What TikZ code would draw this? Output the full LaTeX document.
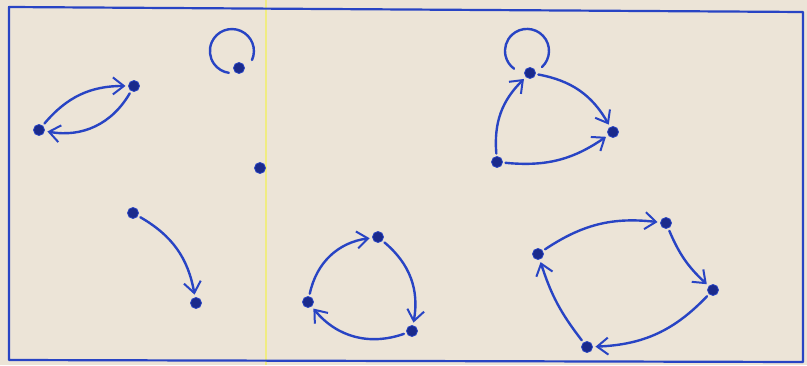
\documentclass[tikz,border=0pt]{standalone}
\usetikzlibrary{arrows.meta}
\definecolor{paper}{RGB}{236,228,215}
\definecolor{ink}{RGB}{40,68,196}
\definecolor{dotink}{RGB}{26,42,140}
\definecolor{yel}{RGB}{240,236,130}
\tikzset{
  dot/.style={circle,fill=dotink,draw=ink,line width=0.8pt,inner sep=0pt,minimum size=11pt,outer sep=3pt},
  arr/.style={draw=ink,line width=2.4pt,line cap=round,-{Straight Barb[length=11pt,width=17pt,line width=2pt]}},
  plain/.style={draw=ink,line width=2.4pt,line cap=round},
}
\begin{document}
\begin{tikzpicture}[x=1pt,y=1pt]
\fill[paper] (0,0) rectangle (807,365);
\useasboundingbox (0,0) rectangle (807,365);
\draw[yel,line width=1.5pt] (266,0) -- (266,365);
\draw[ink,line width=2.2pt,line join=round] (9,358) -- (803,353) -- (803,3) -- (9,5) -- cycle;

% nodes
\node[dot] (A1) at (39,235) {};
\node[dot] (A2) at (134,279) {};
\node[dot] (L)  at (239,297) {};
\node[dot] (I)  at (260,197) {};
\node[dot] (B1) at (133,152) {};
\node[dot] (B2) at (196,62) {};
\node[dot] (C1) at (378,128) {};
\node[dot] (C2) at (412,34) {};
\node[dot] (C3) at (308,63) {};
\node[dot] (D1) at (530,292) {};
\node[dot] (D2) at (613,233) {};
\node[dot] (D3) at (497,203) {};
\node[dot] (E1) at (538,111) {};
\node[dot] (E2) at (666,142) {};
\node[dot] (E3) at (713,75) {};
\node[dot] (E4) at (587,18) {};

% edges
\draw[arr] (A1) to[bend left=25] (A2);
\draw[arr] (A2) to[bend left=35] (A1);
\draw[plain] ([shift={(13,8)}]L.center) arc[start angle=-24,end angle=262,radius=22];
\draw[arr] (B1) to[bend left=25] (B2);
\draw[arr] (C3) to[bend left=35] (C1);
\draw[arr] (C1) to[bend left=30] (C2);
\draw[arr] (C2) to[bend left=35] (C3);
\draw[plain] ([shift={(12,6)}]D1.center) arc[start angle=-47,end angle=234,radius=22];
\draw[arr] (D3) to[bend left=25] (D1);
\draw[arr] (D1) to[bend left=25] (D2);
\draw[arr] (D3) to[bend right=20] (D2);
\draw[arr] (E1) to[bend left=20] (E2);
\draw[arr] (E2) to[bend right=12] (E3);
\draw[arr] (E3) to[bend left=22] (E4);
\draw[arr] (E4) to[bend left=10] (E1);
\end{tikzpicture}
\end{document}
